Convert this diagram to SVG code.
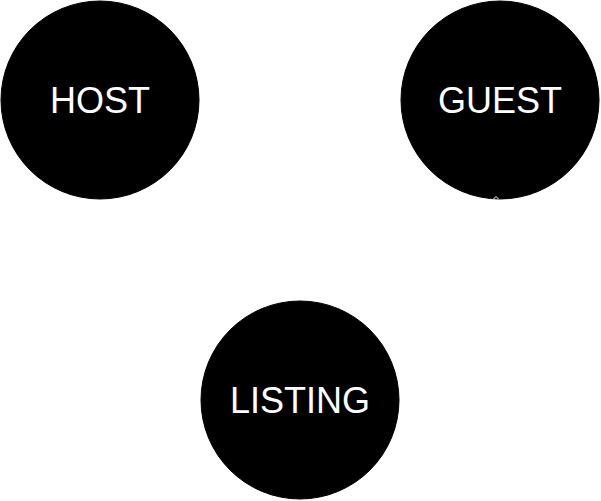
<svg xmlns="http://www.w3.org/2000/svg" width="601" height="501" viewBox="0 0 601 501">
<style>
.node circle{fill:#000;stroke:#000;stroke-width:1}
.node text{fill:#fff;font-family:"Liberation Sans",Arial,sans-serif;font-size:36px;text-anchor:middle}
.edge{fill:none;stroke:#fff;stroke-width:1}
</style>
<rect width="601" height="501" fill="#fff"/>
<g id="host" class="node"><circle cx="100" cy="100" r="99"/><text x="100" y="112.8">HOST</text></g>
<g id="guest" class="node"><circle cx="500" cy="100" r="99"/><text x="500" y="112.8">GUEST</text></g>
<g id="listing" class="node"><circle cx="300" cy="400" r="99"/><text x="300" y="412.8">LISTING</text></g>
<g id="connectors"><path class="edge" d="M493.5,199 L496,196.5 L498.5,199"/></g>
</svg>
